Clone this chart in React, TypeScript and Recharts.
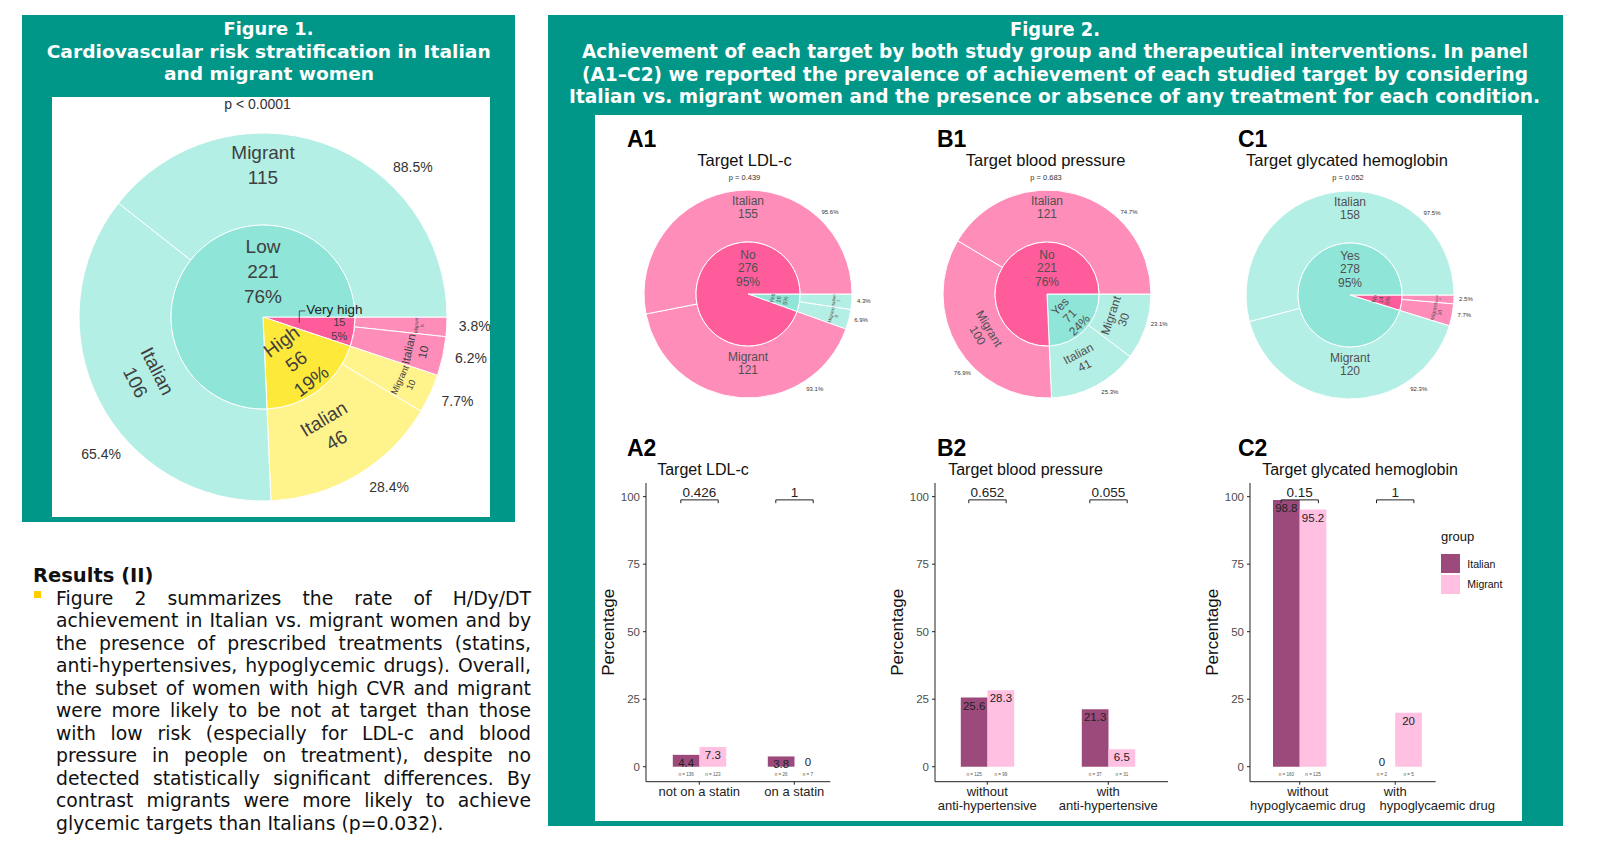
import React from 'react';
import { PieChart, Pie, Cell, BarChart, Bar, XAxis, YAxis, LabelList, Legend } from 'recharts';

// ---------- Figure 1: cardiovascular risk (inner = risk level, outer = group) ----------
const riskLevels = ['Very high', 'High', 'Low'];
const riskCounts = [15, 56, 221];
const riskPct = ['5%', '19%', '76%'];
const riskGroups = ['Migrant', 'Italian', 'Migrant', 'Italian', 'Italian', 'Migrant'];
const riskGroupLevels = ['Very high', 'Very high', 'High', 'High', 'Low', 'Low'];
const riskGroupCounts = [5, 10, 10, 46, 106, 115];
const riskGroupShares = ['3.8%', '6.2%', '7.7%', '28.4%', '65.4%', '88.5%'];

// ---------- Figure 2, A1: target LDL-c ----------
const ldlLevels = ['Yes', 'No'];
const ldlCounts = [16, 276];
const ldlPct = ['5%', '95%'];
const ldlGroups = ['Italian', 'Migrant', 'Migrant', 'Italian'];
const ldlGroupLevels = ['Yes', 'Yes', 'No', 'No'];
const ldlGroupCounts = [7, 9, 121, 155];
const ldlGroupShares = ['4.3%', '6.9%', '93.1%', '95.6%'];

// ---------- B1: target blood pressure ----------
const bpLevels = ['Yes', 'No'];
const bpCounts = [71, 221];
const bpPct = ['24%', '76%'];
const bpGroups = ['Migrant', 'Italian', 'Migrant', 'Italian'];
const bpGroupLevels = ['Yes', 'Yes', 'No', 'No'];
const bpGroupCounts = [30, 41, 100, 121];
const bpGroupShares = ['23.1%', '25.3%', '76.9%', '74.7%'];

// ---------- C1: target glycated hemoglobin ----------
const hbLevels = ['No', 'Yes'];
const hbCounts = [14, 278];
const hbPct = ['5%', '95%'];
const hbGroups = ['Italian', 'Migrant', 'Migrant', 'Italian'];
const hbGroupLevels = ['No', 'No', 'Yes', 'Yes'];
const hbGroupCounts = [4, 10, 120, 158];
const hbGroupShares = ['2.5%', '7.7%', '92.3%', '97.5%'];

// ---------- A2 / B2 / C2 bars ----------
const ldlCats = ['not on a statin', 'on a statin'];
const ldlItalian = [4.4, 3.8];
const ldlMigrant = [7.3, 0];
const ldlItalianN = [136, 26];
const ldlMigrantN = [123, 7];
const ldlP = ['0.426', '1'];

const bpCats = ['without\nanti-hypertensive', 'with\nanti-hypertensive'];
const bpItalian = [25.6, 21.3];
const bpMigrant = [28.3, 6.5];
const bpItalianN = [125, 37];
const bpMigrantN = [99, 31];
const bpP = ['0.652', '0.055'];

const hbCats = ['without\nhypoglycaemic drug', 'with\nhypoglycaemic drug'];
const hbItalian = [98.8, 0];
const hbMigrant = [95.2, 20];
const hbItalianN = [160, 2];
const hbMigrantN = [125, 5];
const hbP = ['0.15', '1'];

const yTicks = [0, 25, 50, 75, 100];

const resultLines = [
  'Figure 2 summarizes the rate of H/Dy/DT',
  'achievement in Italian vs. migrant women and by',
  'the presence of prescribed treatments (statins,',
  'anti-hypertensives, hypoglycemic drugs). Overall,',
  'the subset of women with high CVR and migrant',
  'were more likely to be not at target than those',
  'with low risk (especially for LDL-c and blood',
  'pressure in people on treatment), despite no',
  'detected statistically significant differences. By',
  'contrast migrants were more likely to achieve',
  'glycemic targets than Italians (p=0.032).',
];

// ---------- styling ----------
const TEAL = '#009688';
const SANS = "'Liberation Sans', Arial, Helvetica, sans-serif";
const VERDANA = "'DejaVu Sans', Verdana, sans-serif";
const INNER_FILL: Record<string, string> = { Low: '#8fe5d7', Yes: '#8fe5d7', High: '#fde93a', 'Very high': '#ff5c9b', No: '#ff5c9b' };
const OUTER_FILL: Record<string, string> = { Low: '#b4efe5', Yes: '#b4efe5', High: '#fff38c', 'Very high': '#ff8dba', No: '#ff8dba' };
const ITALIAN_FILL = '#9b4a7b';
const MIGRANT_FILL = '#ffc0e2';

const RADIAN = Math.PI / 180;

let measureCtx: CanvasRenderingContext2D | null = null;
function emWidth(s: string): number {
  if (!measureCtx && typeof document !== 'undefined') measureCtx = document.createElement('canvas').getContext('2d');
  if (!measureCtx) return s.length * 0.55;
  measureCtx.font = `100px ${SANS}`;
  return measureCtx.measureText(s).width / 100;
}

// screen angle a: degrees clockwise from 3 o'clock
function polar(cx: number, cy: number, r: number, a: number): [number, number] {
  return [cx + r * Math.cos(a * RADIAN), cy + r * Math.sin(a * RADIAN)];
}

function covers(a: number, span: number, target: number) {
  const s = a - span / 2;
  const e = a + span / 2;
  return [target - 360, target, target + 360].some((t) => t >= s && t <= e);
}

function tangentRotation(a: number) {
  let t = a + 90;
  while (t > 90) t -= 180;
  while (t <= -90) t += 180;
  return t;
}

// big slices put their share label on the part of the ring that faces right
function shareAngle(a: number, span: number) {
  const s = a - span / 2;
  const e = a + span / 2;
  let best: [number, number] | null = null;
  for (const [lo, hi] of [[-90, 90], [270, 450]]) {
    const l = Math.max(s, lo);
    const h = Math.min(e, hi);
    if (h - l > 0 && (!best || h - l > best[1] - best[0])) best = [l, h];
  }
  if (span > 90 && best && best[1] - best[0] >= 45) return (best[0] + best[1]) / 2;
  return a - 0.1 * span;
}

function textBlock(key: string, lines: string[], x: number, y: number, rot: number, size: number, fill: string, gap: number) {
  const lh = size * gap;
  return (
    <text key={key} x={x} y={y} textAnchor="middle" fontSize={size} fill={fill} fontFamily={SANS}
      transform={rot ? `rotate(${rot} ${x} ${y})` : undefined}>
      {lines.map((l, i) => (
        <tspan key={i} x={x} y={y + (i - (lines.length - 1) / 2) * lh + size * 0.36}>{l}</tspan>
      ))}
    </text>
  );
}

type DonutProps = {
  levels: string[]; counts: number[]; pct: string[];
  groups: string[]; groupLevels: string[]; groupCounts: number[]; shares: string[];
  cx: number; cy: number; rIn: number; rOut: number; half: number;
  maxFont: number; gap: number; pctFont: number; pctPad: number; fill: string; callout?: boolean;
};

function Donut(props: DonutProps) {
  const { levels, counts, pct, groups, groupLevels, groupCounts, shares, cx, cy, rIn, rOut, half, maxFont, gap, pctFont, pctPad, fill, callout } = props;
  const innerRows = levels.map((l, i) => ({ name: l, value: counts[i] }));
  const outerRows = groups.map((g, i) => ({ name: g, level: groupLevels[i], value: groupCounts[i] }));

  const fitAlong = (lines: string[], rl: number, span: number) => {
    const along = 2 * rl * Math.sin((Math.min(span, 180) / 2) * RADIAN) * 0.92;
    return along / Math.max(...lines.map(emWidth));
  };
  const fit = (lines: string[], rl: number, span: number, perp: number) =>
    Math.max(3, Math.min(maxFont, fitAlong(lines, rl, span), perp / (lines.length * gap)));

  const innerLabel = (p: any) => {
    const { cx: x0, cy: y0, midAngle, percent, index } = p;
    const span = percent * 360;
    const a = -midAngle;
    const name = levels[index];
    const cnt = String(counts[index]);
    if (callout && percent < 0.1) {
      const f = maxFont * 0.58;
      const [x, y] = polar(x0, y0, rIn * 0.84, a);
      const [ax, ay] = polar(x0, y0, rIn * 0.4, a);
      return (
        <g>
          {textBlock('v', [cnt, pct[index]], x, y, 0, f, fill, 1.25)}
          <polyline points={`${ax},${ay} ${ax},${ay - 12} ${ax + 6},${ay - 12}`} fill="none" stroke="#333" strokeWidth={0.8} />
          <text x={ax + 7} y={ay - 9} fontSize={13.5} fill="#222" fontFamily={SANS}>{name}</text>
        </g>
      );
    }
    const lines = [name, cnt, pct[index]];
    if (span >= 140) {
      const y = covers(a, span, 270) ? y0 - rIn * 0.5 : y0 + rIn * 0.5;
      return textBlock('i', lines, x0, y, 0, maxFont, fill, gap);
    }
    const rl = rIn * 0.6;
    const [x, y] = polar(x0, y0, rl, a);
    return textBlock('i', lines, x, y, tangentRotation(a), fit(lines, rl, span, rIn * 0.9), fill, gap);
  };

  const outerLabel = (p: any) => {
    const { cx: x0, cy: y0, midAngle, percent, index } = p;
    const span = percent * 360;
    const a = -midAngle;
    const lines = [groups[index], String(groupCounts[index])];
    let el;
    if (span >= 140) {
      const rm = (rIn + rOut) / 2;
      const shift = maxFont * 0.75;
      let x = x0;
      let y = y0;
      if (covers(a, span, 270)) y = y0 - rm - shift;
      else if (covers(a, span, 90)) y = y0 + rm - shift;
      else [x, y] = polar(x0, y0, rm, a);
      el = textBlock('o', lines, x, y, 0, maxFont, fill, gap);
    } else {
      let rl = rIn + 0.42 * (rOut - rIn);
      // narrow slices: move the text outward where the arc is wider
      if (fitAlong(lines, rl, span) < maxFont) rl = rIn + 0.7 * (rOut - rIn);
      const [x, y] = polar(x0, y0, rl, a);
      el = textBlock('o', lines, x, y, tangentRotation(a), fit(lines, rl, span, (rOut - rIn) * 0.92), fill, gap);
    }
    const [px, py] = polar(x0, y0, rOut + pctPad, shareAngle(a, span));
    return (
      <g>
        {el}
        <text x={px} y={py + pctFont * 0.36} textAnchor="middle" fontSize={pctFont} fill="#333" fontFamily={SANS}>{shares[index]}</text>
      </g>
    );
  };

  return (
    <div style={{ position: 'absolute', left: cx - half, top: cy - half }}>
      <PieChart width={half * 2} height={half * 2} margin={{ top: 0, right: 0, bottom: 0, left: 0 }}>
        <Pie data={outerRows} dataKey="value" cx={half} cy={half} innerRadius={rIn} outerRadius={rOut}
          startAngle={0} endAngle={-360} stroke="#fff" strokeWidth={1}
          label={outerLabel} labelLine={false} isAnimationActive={false}>
          {outerRows.map((r, i) => <Cell key={i} fill={OUTER_FILL[r.level]} />)}
        </Pie>
        <Pie data={innerRows} dataKey="value" cx={half} cy={half} innerRadius={0} outerRadius={rIn}
          startAngle={0} endAngle={-360} stroke="#fff" strokeWidth={1}
          label={innerLabel} labelLine={false} isAnimationActive={false}>
          {innerRows.map((r, i) => <Cell key={i} fill={INNER_FILL[r.name]} />)}
        </Pie>
      </PieChart>
    </div>
  );
}

// ---------- bar panels ----------
const PLOT_TOP = 483;
const PLOT_BOTTOM = 781.7;
const Y_MIN = -5.55;
const Y_MAX = 105.05;
const CHART_TOP = 440;
const CHART_H = 380;
const X_AXIS_H = 30;
const Y_AXIS_W = 30;
const LEFT_SPACE = 70;
const BRACKET_AT = 98.8;

const renderYLabel = (props: any) => {
  const vb = props.viewBox || {};
  const x = vb.x + vb.width - 37.7;
  const y = vb.y + vb.height / 2;
  return (
    <text x={x} y={y} transform={`rotate(-90 ${x} ${y})`} textAnchor="middle" dominantBaseline="central"
      fontSize={17} fontFamily={SANS} fill="#111">Percentage</text>
  );
};

function barBox(p: any) {
  return p.viewBox && p.viewBox.width !== undefined ? p.viewBox : p;
}

// value on top of a bar and its n below the axis
function marks(key: string, left: number, w: number, top: number, base: number, v: number, n: number) {
  const mid = left + w / 2;
  return (
    <g key={key}>
      <text x={mid} y={v > 0 ? top + 12 : top - 0.8} textAnchor="middle" fontSize={11.5} fill="#222" fontFamily={SANS}>{String(v)}</text>
      <text x={mid} y={base + 9} textAnchor="middle" fontSize={4.6} fill="#555" fontFamily={SANS}>{`n = ${n}`}</text>
    </g>
  );
}

function bracket(key: string, xc: number, w: number, yb: number, label: string) {
  const h = 0.7 * w;
  return (
    <g key={key}>
      <path d={`M${xc - h},${yb + 3.3} V${yb} H${xc + h} V${yb + 3.3}`} stroke="#222" fill="none" strokeWidth={1} />
      <text x={xc} y={yb - 3} textAnchor="middle" fontSize={13.5} fill="#222" fontFamily={SANS}>{label}</text>
    </g>
  );
}

function renderLegend(props: any) {
  const items = props.payload || [];
  return (
    <div style={{ fontFamily: SANS, width: 90 }}>
      <div style={{ fontSize: 13, color: '#111', height: 18, lineHeight: '18px', marginBottom: 7.6 }}>group</div>
      {items.map((it: any) => (
        <div key={it.value} style={{ display: 'flex', alignItems: 'center', height: 20.7 }}>
          <span style={{ width: 19, height: 19, background: it.color, display: 'inline-block', marginRight: 7.3 }} />
          <span style={{ fontSize: 10.5, color: '#111' }}>{it.value}</span>
        </div>
      ))}
    </div>
  );
}

type BarsProps = {
  cats: string[]; italian: number[]; migrant: number[]; nItalian: number[]; nMigrant: number[]; pvals: string[];
  left: number; right: number; padL: number; padR: number; legend?: boolean; lineShift?: number[][];
};

function TargetBars(props: BarsProps) {
  const { cats, italian, migrant, nItalian, nMigrant, pvals, left, right, padL, padR, legend, lineShift } = props;
  const rows = cats.map((c, i) => ({ cat: c, Italian: italian[i], Migrant: migrant[i] }));
  const rightMargin = legend ? 90 : 10;
  const width = right - left + LEFT_SPACE + rightMargin;
  const ppu = (PLOT_BOTTOM - PLOT_TOP) / (Y_MAX - Y_MIN);

  const renderTick = (tp: any) => {
    const { x, y, payload, index } = tp;
    const lines = String(payload.value).split('\n');
    const shifts = (lineShift && lineShift[index]) || [];
    return (
      <text x={x} y={y} textAnchor="middle" fontSize={13} fontFamily={SANS} fill="#222">
        {lines.map((l, i) => <tspan key={i} x={x + (shifts[i] || 0)} y={y + 9.6 + i * 14}>{l}</tspan>)}
      </text>
    );
  };

  // zero-height bars get no label of their own, so the sibling bar draws for them
  const italianMarks = (p: any) => {
    const { x, y, width: w, height } = barBox(p);
    const i = p.index;
    const base = y + height;
    const out = [marks('a', x, w, y, base, italian[i], nItalian[i])];
    if (migrant[i] === 0) {
      out.push(marks('b', x + w, w, base, base, 0, nMigrant[i]));
      out.push(bracket('c', x + w, w, base - BRACKET_AT * ppu, pvals[i]));
    }
    return <g>{out}</g>;
  };
  const migrantMarks = (p: any) => {
    const { x, y, width: w, height } = barBox(p);
    const i = p.index;
    const base = y + height;
    const out = [marks('a', x, w, y, base, migrant[i], nMigrant[i]), bracket('c', x, w, base - BRACKET_AT * ppu, pvals[i])];
    if (italian[i] === 0) out.push(marks('b', x - w, w, base, base, 0, nItalian[i]));
    return <g>{out}</g>;
  };

  return (
    <div style={{ position: 'absolute', left: left - LEFT_SPACE, top: CHART_TOP }}>
      <BarChart width={width} height={CHART_H} data={rows} barSize={26.7} barGap={0}
        margin={{ top: PLOT_TOP - CHART_TOP, right: rightMargin, left: LEFT_SPACE - Y_AXIS_W, bottom: CHART_H - (PLOT_BOTTOM - CHART_TOP) - X_AXIS_H }}>
        <XAxis dataKey="cat" interval={0} height={X_AXIS_H} padding={{ left: padL, right: padR }}
          tick={renderTick} tickSize={3} tickMargin={2} axisLine={{ stroke: '#222' }} tickLine={{ stroke: '#222' }} />
        <YAxis type="number" domain={[Y_MIN, Y_MAX]} ticks={yTicks} width={Y_AXIS_W} tickSize={3} tickMargin={3}
          axisLine={{ stroke: '#222' }} tickLine={{ stroke: '#222' }}
          tick={{ fontSize: 11.5, fill: '#4d4d4d', fontFamily: SANS }} label={renderYLabel} />
        <Bar dataKey="Italian" name="Italian" fill={ITALIAN_FILL} isAnimationActive={false}>
          <LabelList dataKey="Italian" content={italianMarks} />
        </Bar>
        <Bar dataKey="Migrant" name="Migrant" fill={MIGRANT_FILL} isAnimationActive={false}>
          <LabelList dataKey="Migrant" content={migrantMarks} />
        </Bar>
        {legend && (
          <Legend layout="vertical" align="right" verticalAlign="middle" content={renderLegend}
            wrapperStyle={{ position: 'absolute', left: 261, top: 87.7, right: 'auto', bottom: 'auto', width: 1, height: 1, overflow: 'visible' }} />
        )}
      </BarChart>
    </div>
  );
}

export default function App() {
  const W = 'spacingAndGlyphs';
  return (
    <div style={{ position: 'absolute', left: 0, top: 0, width: 1600, height: 858, overflow: 'hidden', background: '#fff' }}>
      {/* frames */}
      <div style={{ position: 'absolute', left: 22, top: 15, width: 493, height: 507, background: TEAL }} />
      <div style={{ position: 'absolute', left: 52, top: 97, width: 438, height: 420, background: '#fff' }} />
      <div style={{ position: 'absolute', left: 548, top: 15, width: 1015, height: 811, background: TEAL }} />
      <div style={{ position: 'absolute', left: 595, top: 115, width: 927, height: 706, background: '#fff' }} />

      <Donut levels={riskLevels} counts={riskCounts} pct={riskPct} groups={riskGroups} groupLevels={riskGroupLevels}
        groupCounts={riskGroupCounts} shares={riskGroupShares} cx={263} cy={317} rIn={92} rOut={184} half={250}
        maxFont={19} gap={1.3} pctFont={14} pctPad={28} fill="#3f3f3f" callout />

      <Donut levels={ldlLevels} counts={ldlCounts} pct={ldlPct} groups={ldlGroups} groupLevels={ldlGroupLevels}
        groupCounts={ldlGroupCounts} shares={ldlGroupShares} cx={748} cy={294} rIn={52} rOut={104} half={150}
        maxFont={12} gap={1.12} pctFont={6} pctPad={12} fill="#505050" />
      <Donut levels={bpLevels} counts={bpCounts} pct={bpPct} groups={bpGroups} groupLevels={bpGroupLevels}
        groupCounts={bpGroupCounts} shares={bpGroupShares} cx={1047} cy={294} rIn={52} rOut={104} half={150}
        maxFont={12} gap={1.12} pctFont={6} pctPad={12} fill="#505050" />
      <Donut levels={hbLevels} counts={hbCounts} pct={hbPct} groups={hbGroups} groupLevels={hbGroupLevels}
        groupCounts={hbGroupCounts} shares={hbGroupShares} cx={1350} cy={295} rIn={52} rOut={104} half={150}
        maxFont={12} gap={1.12} pctFont={6} pctPad={12} fill="#505050" />

      <TargetBars cats={ldlCats} italian={ldlItalian} migrant={ldlMigrant} nItalian={ldlItalianN} nMigrant={ldlMigrantN}
        pvals={ldlP} left={645.7} right={830} padL={5.8} padR={-11.5} />
      <TargetBars cats={bpCats} italian={bpItalian} migrant={bpMigrant} nItalian={bpItalianN} nMigrant={bpMigrantN}
        pvals={bpP} left={935} right={1168} padL={-8.2} padR={-0.8} />
      <TargetBars cats={hbCats} italian={hbItalian} migrant={hbMigrant} nItalian={hbItalianN} nMigrant={hbMigrantN}
        pvals={hbP} left={1250} right={1436.7} padL={2} padR={-7.3} legend lineShift={[[8, 8], [0, 42]]} />

      {/* results text */}
      <div style={{ position: 'absolute', left: 56, top: 588, width: 475, fontFamily: VERDANA, fontSize: 18.8, lineHeight: '22.45px', color: '#111' }}>
        {resultLines.map((l, i) => {
          const last = i === resultLines.length - 1;
          return (
            <div key={i} style={{ whiteSpace: 'nowrap', textAlign: last ? 'left' : 'justify', textAlignLast: last ? 'left' : 'justify' }}>{l}</div>
          );
        })}
      </div>

      {/* titles and annotations */}
      <svg width={1600} height={858} style={{ position: 'absolute', left: 0, top: 0, pointerEvents: 'none' }}>
        <g fontFamily={VERDANA} fontWeight="bold" fill="#fff" fontSize={18}>
          <text x={268.5} y={35} textAnchor="middle" textLength={90} lengthAdjust={W}>Figure 1.</text>
          <text x={268.7} y={57.5} textAnchor="middle" textLength={444} lengthAdjust={W}>Cardiovascular risk stratification in Italian</text>
          <text x={269} y={80} textAnchor="middle" textLength={210} lengthAdjust={W}>and migrant women</text>
        </g>
        <g fontFamily={VERDANA} fontWeight="bold" fill="#fff" fontSize={19}>
          <text x={1055} y={35.5} textAnchor="middle" textLength={90} lengthAdjust={W}>Figure 2.</text>
          <text x={1055} y={58} textAnchor="middle" textLength={946} lengthAdjust={W}>Achievement of each target by both study group and therapeutical interventions. In panel</text>
          <text x={1055} y={80.5} textAnchor="middle" textLength={946} lengthAdjust={W}>(A1–C2) we reported the prevalence of achievement of each studied target by considering</text>
          <text x={1054.5} y={103} textAnchor="middle" textLength={971} lengthAdjust={W}>Italian vs. migrant women and the presence or absence of any treatment for each condition.</text>
        </g>

        <text x={257.5} y={109} textAnchor="middle" fontSize={14} fontFamily={SANS} fill="#333">p &lt; 0.0001</text>

        <g fontFamily={SANS} fontWeight="bold" fontSize={23} fill="#000">
          <text x={627} y={147}>A1</text>
          <text x={937} y={147}>B1</text>
          <text x={1238} y={147}>C1</text>
          <text x={627} y={456}>A2</text>
          <text x={937} y={456}>B2</text>
          <text x={1238} y={456}>C2</text>
        </g>

        <g fontFamily={SANS} fontSize={16.5} fill="#111" textAnchor="middle">
          <text x={744.5} y={166}>Target LDL-c</text>
          <text x={1045.6} y={166}>Target blood pressure</text>
          <text x={1347} y={166}>Target glycated hemoglobin</text>
        </g>
        <g fontFamily={SANS} fontSize={7.5} fill="#333" textAnchor="middle">
          <text x={744.5} y={180}>p = 0.439</text>
          <text x={1046} y={180}>p = 0.683</text>
          <text x={1348} y={180}>p = 0.052</text>
        </g>
        <g fontFamily={SANS} fontSize={16} fill="#111" textAnchor="middle">
          <text x={703} y={475}>Target LDL-c</text>
          <text x={1025.6} y={475}>Target blood pressure</text>
          <text x={1360} y={475}>Target glycated hemoglobin</text>
        </g>

        <text x={33} y={582} fontFamily={VERDANA} fontWeight="bold" fontSize={19.5} fill="#111">Results (II)</text>
        <rect x={34} y={591} width={7} height={7} fill="#ffcc00" />
      </svg>
    </div>
  );
}
